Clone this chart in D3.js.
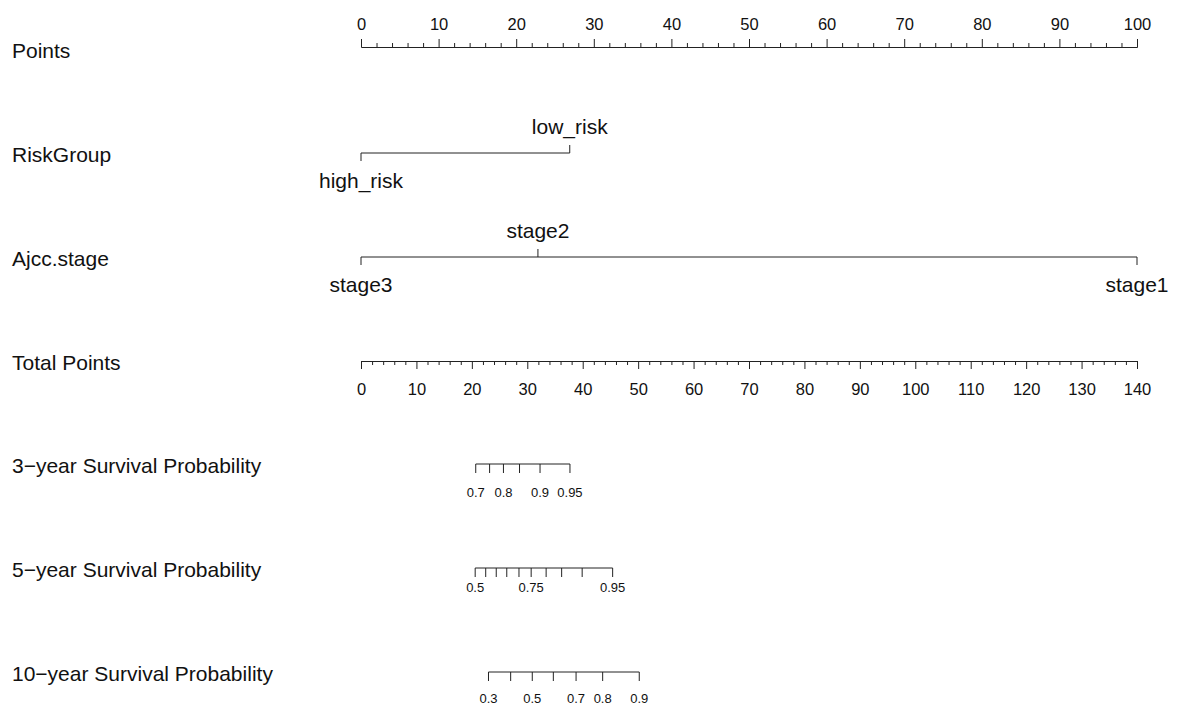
<!DOCTYPE html>
<html>
<head>
<meta charset="utf-8">
<script src="https://cdn.jsdelivr.net/npm/d3@7"></script>
<style>
  body { margin: 0; background: #fff; }
  svg { font-family: "Liberation Sans", Arial, sans-serif; }
  .axis path, .axis line { stroke: #222; }
  .axis text { fill: #111; }
</style>
</head>
<body>
<svg id="chart" width="1178" height="706"></svg>
<script>
// row labels
var rowNames = ["Points", "RiskGroup", "Ajcc.stage", "Total Points",
    "3\u2212year Survival Probability", "5\u2212year Survival Probability", "10\u2212year Survival Probability"];

// points scale ticks
var pointTicks = [0, 10, 20, 30, 40, 50, 60, 70, 80, 90, 100];
var totalTicks = [0, 10, 20, 30, 40, 50, 60, 70, 80, 90, 100, 110, 120, 130, 140];

// predictor levels -> points
var riskLevels = ["high_risk", "low_risk"];
var riskPoints = [0, 26.9];
var stageLevels = ["stage3", "stage2", "stage1"];
var stagePoints = [0, 22.8, 100];

// survival probabilities -> total points
var surv3Prob = [0.7, 0.75, 0.8, 0.85, 0.9, 0.95];
var surv3Pts = [20.7, 23.2, 25.7, 28.6, 32.3, 37.7];
var surv3Labels = [0.7, 0.8, 0.9, 0.95];

var surv5Prob = [0.5, 0.55, 0.6, 0.65, 0.7, 0.75, 0.8, 0.85, 0.9, 0.95];
var surv5Pts = [20.6, 22.5, 24.4, 26.3, 28.5, 30.7, 33.4, 36.2, 39.9, 45.4];
var surv5Labels = [0.5, 0.75, 0.95];

var surv10Prob = [0.3, 0.4, 0.5, 0.6, 0.7, 0.8, 0.9];
var surv10Pts = [23.0, 27.0, 30.9, 34.7, 38.8, 43.6, 50.2];
var surv10Labels = [0.3, 0.5, 0.7, 0.8, 0.9];

var svg = d3.select("#chart");
var left = 361, right = 1137;
var rowY = [47, 153, 257, 361, 464, 568, 672];

var xPts = d3.scaleLinear().domain([0, 100]).range([left, right]);
var xTot = d3.scaleLinear().domain([0, 140]).range([left, right]);

// row labels
svg.selectAll("text.rowlab")
    .data(rowNames)
    .enter().append("text")
    .attr("class", "rowlab")
    .attr("x", 12)
    .attr("y", function(d, i) { return rowY[i] + (i == 0 ? 11 : 8.5); })
    .attr("font-size", 21)
    .attr("fill", "#111")
    .text(function(d) { return d; });

// Points axis (ticks up)
var minorPts = d3.range(0, 101, 2).filter(function(v) { return v % 10 != 0; });
svg.append("g").attr("class", "axis")
    .attr("transform", "translate(0," + rowY[0] + ")")
    .call(d3.axisTop(xPts).tickValues(minorPts).tickSize(4).tickSizeOuter(0).tickFormat(""));
svg.append("g").attr("class", "axis")
    .attr("transform", "translate(0," + rowY[0] + ")")
    .call(d3.axisTop(xPts).tickValues(pointTicks).tickSize(8).tickSizeOuter(0).tickPadding(9))
    .selectAll("text").attr("font-size", 16.5);

// Total points axis (ticks down)
var minorTot = d3.range(0, 141, 2).filter(function(v) { return v % 10 != 0; });
svg.append("g").attr("class", "axis")
    .attr("transform", "translate(0," + rowY[3] + ")")
    .call(d3.axisBottom(xTot).tickValues(minorTot).tickSize(4).tickSizeOuter(0).tickFormat(""));
svg.append("g").attr("class", "axis")
    .attr("transform", "translate(0," + rowY[3] + ")")
    .call(d3.axisBottom(xTot).tickValues(totalTicks).tickSize(8).tickSizeOuter(0).tickPadding(14))
    .selectAll("text").attr("font-size", 16.5);

// predictor rows: alternate ticks down / up
function drawFactor(y, levels, pts) {
    var g = svg.append("g").attr("class", "axis");
    g.append("line")
        .attr("x1", xPts(d3.min(pts))).attr("x2", xPts(d3.max(pts)))
        .attr("y1", y).attr("y2", y)
        .attr("stroke", "#222");
    levels.forEach(function(lev, i) {
        var up = i % 2 == 1;
        var x = xPts(pts[i]);
        g.append("line")
            .attr("x1", x).attr("x2", x)
            .attr("y1", y).attr("y2", up ? y - 8 : y + 8)
            .attr("stroke", "#222");
        g.append("text")
            .attr("x", x)
            .attr("y", up ? y - 19 : y + 34.5)
            .attr("text-anchor", "middle")
            .attr("font-size", 21)
            .text(lev);
    });
}
drawFactor(rowY[1], riskLevels, riskPoints);
drawFactor(rowY[2], stageLevels, stagePoints);

// survival rows
function drawSurv(y, probs, pts, labels, labelY) {
    var g = svg.append("g").attr("class", "axis")
        .attr("transform", "translate(0," + y + ")");
    g.append("line")
        .attr("x1", xTot(d3.min(pts))).attr("x2", xTot(d3.max(pts)))
        .attr("stroke", "#222");
    probs.forEach(function(p, i) {
        var x = xTot(pts[i]);
        g.append("line").attr("x1", x).attr("x2", x).attr("y1", 0).attr("y2", 9).attr("stroke", "#222");
        if (labels.indexOf(p) >= 0) {
            g.append("text")
                .attr("x", x).attr("y", labelY)
                .attr("text-anchor", "middle")
                .attr("font-size", 13)
                .attr("fill", "#111")
                .text(p);
        }
    });
}
drawSurv(rowY[4], surv3Prob, surv3Pts, surv3Labels, 33);
drawSurv(rowY[5], surv5Prob, surv5Pts, surv5Labels, 24);
drawSurv(rowY[6], surv10Prob, surv10Pts, surv10Labels, 31);
</script>
</body>
</html>
